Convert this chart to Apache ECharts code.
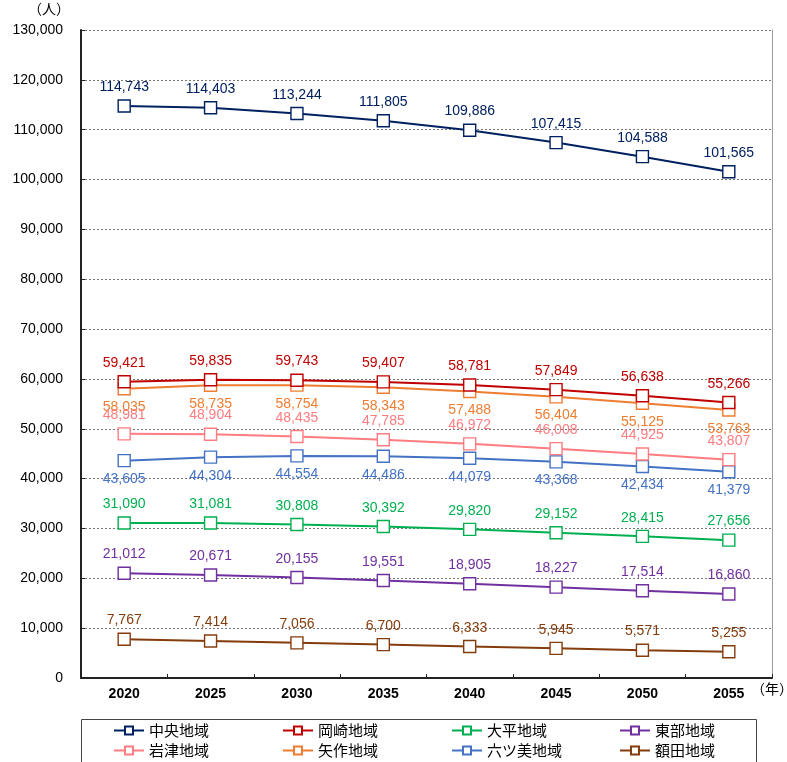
<!DOCTYPE html>
<html><head><meta charset="utf-8">
<script src="https://cdn.jsdelivr.net/npm/echarts@6/dist/echarts.min.js"></script>
<style>html,body{margin:0;padding:0;background:#fff}#c{width:787px;height:762px}</style>
</head><body><div id="c"></div>
<script>
const years = ['2020','2025','2030','2035','2040','2045','2050','2055'];
const yTicks = [0,10000,20000,30000,40000,50000,60000,70000,80000,90000,100000,110000,120000,130000];
const names = ['中央地域','岡崎地域','大平地域','東部地域','岩津地域','矢作地域','六ツ美地域','額田地域'];
const chuo   = [114743,114403,113244,111805,109886,107415,104588,101565];
const okazaki= [59421,59835,59743,59407,58781,57849,56638,55266];
const ohira  = [31090,31081,30808,30392,29820,29152,28415,27656];
const tobu   = [21012,20671,20155,19551,18905,18227,17514,16860];
const iwazu  = [48981,48904,48435,47785,46972,46008,44925,43807];
const yahagi = [58035,58735,58754,58343,57488,56404,55125,53763];
const mutsumi= [43605,44304,44554,44486,44079,43368,42434,41379];
const nukata = [7767,7414,7056,6700,6333,5945,5571,5255];
const seriesData = [chuo,okazaki,ohira,tobu,iwazu,yahagi,mutsumi,nukata];
const colors = ['#002060','#C00000','#00B050','#7030A0','#FF7C80','#ED7D31','#4472C4','#843C0C'];
const labelPos = ['top','top','top','top','top','bottom','bottom','top'];

const font = '"Liberation Sans", Arial, "Noto Sans CJK JP", sans-serif';
const cjk = '"Noto Sans CJK JP", sans-serif';
const chart = echarts.init(document.getElementById('c'));

const series = names.map((n,i)=>({
  name:n, type:'line', data:seriesData[i], yAxisIndex:0,
  symbol:'rect', symbolSize:12,
  lineStyle:{color:colors[i], width:2},
  itemStyle:{color:'#fff', borderColor:colors[i], borderWidth:1.4},
  label:{show:true, position:labelPos[i], distance:5, color:colors[i], fontSize:14, fontFamily:font,
    formatter:p=>p.value.toLocaleString('en-US')},
  animation:false, z:10-i
}));

const legendLeft = [113,282,451,619];
const legends = names.map((n,i)=>({
  data:[n], left: legendLeft[i%4], top: (i<4? 723 : 743), padding:0,
  itemWidth:30, itemHeight:10,
  textStyle:{fontSize:15, color:'#000', fontFamily:cjk},
  selectedMode:false
}));

chart.setOption({
  backgroundColor:'#fff',
  animation:false,
  grid:{left:81, right:15, top:30, bottom:84},
  xAxis:{type:'category', data:years, boundaryGap:true,
    axisLine:{lineStyle:{color:'#222', width:2}},
    axisTick:{show:true, inside:true, length:4, lineStyle:{color:'#222'}},
    axisLabel:{color:'#000', fontSize:14, fontWeight:'bold', margin:9, fontFamily:font}},
  yAxis:[{type:'value', min:0, max:130000, interval:10000,
    axisLine:{show:true, lineStyle:{color:'#222', width:2}},
    axisTick:{show:true, inside:true, length:4, lineStyle:{color:'#222'}},
    splitLine:{show:true, lineStyle:{color:'#777', type:[2,2], width:1}},
    axisLabel:{color:'#000', fontSize:14, margin:18, fontFamily:font,
      formatter:v=>v.toLocaleString('en-US')}},
    {type:'value', min:0, max:130000, interval:10000, position:'right',
    axisLine:{show:true, lineStyle:{color:'#999', width:1}},
    axisTick:{show:false}, axisLabel:{show:false}, splitLine:{show:false}}],
  legend:legends,
  graphic:[
    {type:'text', left:28, top:2, style:{text:'（人）', fill:'#000', font:'14px "Noto Sans CJK JP"'}},
    {type:'text', left:751, top:682, style:{text:'（年）', fill:'#000', font:'14px "Noto Sans CJK JP"'}},
    {type:'rect', shape:{x:81.5, y:719.5, width:675, height:50}, style:{fill:'none', stroke:'#444', lineWidth:1}, z:-1}
  ],
  series:series
});
</script></body></html>
